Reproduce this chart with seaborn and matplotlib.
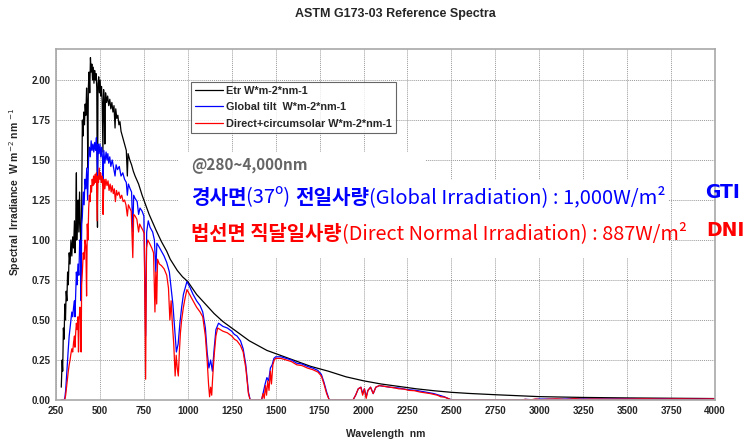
import numpy as np
import pandas as pd
import seaborn as sns
import matplotlib.pyplot as plt
from matplotlib.patches import Rectangle

# ---- data ----
etr_wl = [280, 285, 288, 292, 296, 300, 304, 308, 312, 316, 320, 325, 330, 335, 340, 345, 350,
          355, 358, 362, 366, 368, 372, 376, 380, 384, 388, 393, 396, 400, 404, 408, 412, 416,
          420, 424, 428, 431, 434, 438, 442, 446, 450, 454, 458, 462, 466, 470, 474, 478, 482,
          486, 489, 493, 497, 501, 505, 509, 513, 517, 521, 525, 528, 532, 538, 544, 550, 556,
          562, 568, 574, 580, 586, 590, 596, 602, 608, 614, 620, 630, 640, 650, 656, 660, 670,
          680, 690, 700, 720, 740, 760, 780, 800, 820, 850, 880, 900, 940, 970, 1000, 1050,
          1100, 1150, 1200, 1250, 1300, 1350, 1400, 1450, 1500, 1550, 1600, 1650, 1700, 1750,
          1800, 1900, 2000, 2100, 2200, 2300, 2400, 2500, 2600, 2750, 3000, 3250, 3500, 3750, 4000]
etr = [0.08, 0.25, 0.18, 0.45, 0.38, 0.60, 0.50, 0.68, 0.62, 0.80, 0.72, 0.92, 0.85, 1.00, 0.90,
       1.02, 0.95, 1.12, 0.92, 1.05, 1.42, 1.00, 1.15, 1.25, 1.05, 1.30, 1.10, 0.85, 1.20, 1.75,
       1.65, 1.80, 1.72, 1.85, 1.78, 1.95, 1.82, 1.45, 1.95, 2.05, 1.92, 2.14, 2.05, 2.10, 2.00,
       2.08, 1.98, 2.06, 2.00, 2.04, 1.95, 1.08, 1.98, 2.02, 1.92, 2.00, 1.90, 1.96, 1.86, 1.55,
       1.94, 1.84, 1.60, 1.92, 1.86, 1.90, 1.84, 1.88, 1.82, 1.86, 1.80, 1.84, 1.70, 1.82, 1.76,
       1.78, 1.72, 1.74, 1.68, 1.64, 1.60, 1.56, 1.40, 1.54, 1.50, 1.47, 1.43, 1.40, 1.35, 1.28,
       1.22, 1.16, 1.11, 1.06, 0.99, 0.93, 0.88, 0.81, 0.77, 0.74, 0.66, 0.60, 0.54, 0.49, 0.45,
       0.41, 0.37, 0.34, 0.31, 0.29, 0.27, 0.25, 0.23, 0.21, 0.195, 0.18, 0.145, 0.12, 0.10,
       0.085, 0.07, 0.058, 0.048, 0.041, 0.033, 0.021, 0.016, 0.013, 0.011, 0.009]

glob_wl = [280, 295, 300, 305, 310, 315, 320, 325, 330, 335, 340, 345, 350, 355, 358, 362, 366,
           370, 375, 380, 385, 390, 393, 396, 400, 405, 410, 415, 420, 425, 430, 435, 440, 445,
           450, 455, 460, 465, 470, 475, 480, 486, 490, 495, 500, 505, 510, 515, 518, 522, 528,
           535, 540, 545, 550, 556, 562, 570, 578, 586, 592, 600, 610, 620, 630, 640, 650, 656,
           662, 672, 680, 687, 692, 700, 712, 720, 728, 740, 750, 760, 766, 775, 785, 800, 810,
           818, 824, 835, 850, 865, 880, 895, 905, 915, 925, 935, 945, 955, 965, 975, 985, 995,
           1010, 1030, 1050, 1070, 1085, 1100, 1110, 1120, 1130, 1140, 1150, 1160, 1175, 1200,
           1225, 1250, 1265, 1280, 1300, 1315, 1330, 1345, 1355, 1420, 1430, 1440, 1450, 1460,
           1470, 1480, 1490, 1500, 1530, 1560, 1590, 1620, 1650, 1680, 1710, 1740, 1760, 1775,
           1790, 1805, 1940, 1955, 1970, 1985, 1995, 2005, 2015, 2025, 2040, 2055, 2070, 2090,
           2120, 2150, 2200, 2250, 2300, 2350, 2400, 2430, 2460, 2490, 2510, 2900, 2920, 2960,
           3000, 3100, 3200, 3300, 3400, 3500, 3600, 3700, 3800, 3900, 4000]
glob = [0.0, 0.0, 0.01, 0.06, 0.15, 0.24, 0.32, 0.40, 0.45, 0.50, 0.55, 0.52, 0.58, 0.62, 0.52,
        0.66, 0.80, 0.72, 0.85, 0.78, 1.00, 0.95, 0.62, 1.10, 1.15, 1.30, 1.22, 1.38, 1.32, 1.45,
        1.25, 1.50, 1.58, 1.52, 1.62, 1.56, 1.60, 1.55, 1.61, 1.56, 1.64, 1.40, 1.60, 1.54, 1.60,
        1.52, 1.58, 1.50, 1.35, 1.56, 1.48, 1.55, 1.50, 1.54, 1.48, 1.52, 1.46, 1.50, 1.45, 1.40,
        1.47, 1.44, 1.46, 1.40, 1.42, 1.38, 1.36, 1.28, 1.35, 1.32, 1.30, 1.05, 1.28, 1.26, 1.24,
        1.16, 1.20, 1.18, 1.15, 0.40, 1.05, 1.12, 1.08, 1.05, 1.00, 0.80, 0.98, 0.96, 0.93, 0.90,
        0.86, 0.80, 0.70, 0.60, 0.45, 0.30, 0.35, 0.48, 0.58, 0.66, 0.70, 0.74, 0.71, 0.66, 0.62,
        0.59, 0.55, 0.45, 0.30, 0.20, 0.25, 0.18, 0.32, 0.44, 0.48, 0.46, 0.45, 0.43, 0.41, 0.40,
        0.37, 0.32, 0.22, 0.05, 0.0, 0.0, 0.05, 0.10, 0.14, 0.12, 0.20, 0.22, 0.26, 0.27, 0.27,
        0.26, 0.25, 0.23, 0.225, 0.21, 0.20, 0.185, 0.16, 0.11, 0.05, 0.0, 0.0, 0.03, 0.07, 0.08,
        0.04, 0.07, 0.02, 0.06, 0.08, 0.04, 0.08, 0.09, 0.085, 0.08, 0.075, 0.065, 0.06, 0.05,
        0.04, 0.03, 0.02, 0.005, 0.0, 0.0, 0.004, 0.002, 0.006, 0.005, 0.007, 0.006, 0.006,
        0.007, 0.006, 0.007, 0.006, 0.006, 0.007]

dir_wl = [280, 300, 305, 310, 315, 320, 325, 330, 335, 340, 345, 350, 355, 358, 362, 366, 370,
          375, 378, 382, 386, 390, 393, 396, 400, 405, 410, 415, 420, 424, 428, 432, 436, 440,
          444, 448, 452, 456, 460, 464, 468, 472, 476, 480, 484, 488, 492, 496, 500, 504, 508,
          512, 516, 518, 522, 528, 534, 540, 546, 552, 558, 564, 570, 576, 582, 588, 594, 600,
          608, 616, 624, 632, 640, 648, 656, 662, 670, 678, 687, 692, 700, 710, 720, 726, 735,
          745, 752, 760, 765, 772, 782, 795, 805, 813, 818, 823, 828, 838, 850, 865, 880, 890,
          898, 905, 912, 920, 928, 934, 940, 946, 952, 958, 965, 975, 985, 995, 1010, 1030, 1050,
          1070, 1085, 1100, 1110, 1118, 1124, 1130, 1136, 1142, 1150, 1160, 1170, 1185, 1200,
          1225, 1250, 1265, 1280, 1300, 1315, 1330, 1345, 1355, 1420, 1428, 1435, 1442, 1448,
          1455, 1462, 1470, 1476, 1484, 1492, 1500, 1530, 1560, 1590, 1620, 1650, 1680, 1710,
          1740, 1760, 1775, 1790, 1805, 1940, 1955, 1970, 1985, 1995, 2005, 2015, 2025, 2040,
          2055, 2070, 2090, 2120, 2150, 2180, 2200, 2230, 2260, 2290, 2320, 2350, 2380, 2400,
          2420, 2440, 2460, 2480, 2500, 2900, 2920, 2950, 2980, 3010, 3050, 3100, 3150, 3200,
          3250, 3300, 3400, 3500, 3600, 3700, 3800, 3900, 4000]
direct = [0.0, 0.0, 0.03, 0.08, 0.13, 0.18, 0.22, 0.25, 0.29, 0.32, 0.30, 0.36, 0.40, 0.33, 0.42,
          0.48, 0.44, 0.52, 0.30, 0.50, 0.58, 0.56, 0.30, 0.72, 0.80, 0.92, 0.88, 1.00, 0.96, 0.65,
          1.10, 1.00, 1.20, 1.28, 1.24, 1.34, 1.30, 1.38, 1.34, 1.40, 1.35, 1.41, 1.36, 1.42, 1.12,
          1.40, 1.36, 1.45, 1.38, 1.42, 1.36, 1.40, 1.33, 1.16, 1.38, 1.32, 1.38, 1.34, 1.37, 1.31,
          1.35, 1.30, 1.34, 1.29, 1.32, 1.24, 1.31, 1.28, 1.30, 1.26, 1.28, 1.24, 1.25, 1.22, 1.15,
          1.22, 1.20, 1.18, 0.89, 1.16, 1.15, 1.13, 1.05, 1.10, 1.08, 1.06, 1.04, 0.13, 0.95, 1.00,
          0.98, 0.95, 0.92, 0.55, 0.80, 0.60, 0.88, 0.85, 0.84, 0.82, 0.78, 0.70, 0.50, 0.62, 0.48,
          0.35, 0.15, 0.28, 0.20, 0.15, 0.30, 0.42, 0.50, 0.58, 0.64, 0.69, 0.66, 0.62, 0.58, 0.55,
          0.52, 0.40, 0.25, 0.10, 0.02, 0.08, 0.03, 0.15, 0.28, 0.40, 0.45, 0.44, 0.43, 0.42, 0.40,
          0.38, 0.37, 0.34, 0.30, 0.20, 0.04, 0.0, 0.0, 0.04, 0.01, 0.09, 0.03, 0.12, 0.06, 0.18,
          0.10, 0.22, 0.25, 0.26, 0.26, 0.25, 0.24, 0.22, 0.215, 0.20, 0.19, 0.175, 0.15, 0.10,
          0.04, 0.0, 0.0, 0.03, 0.07, 0.08, 0.03, 0.07, 0.01, 0.06, 0.08, 0.04, 0.08, 0.09, 0.085,
          0.08, 0.075, 0.07, 0.068, 0.06, 0.058, 0.05, 0.045, 0.04, 0.035, 0.03, 0.02, 0.018, 0.01,
          0.0, 0.0, 0.004, 0.001, 0.006, 0.002, 0.005, 0.007, 0.003, 0.008, 0.004, 0.006, 0.005,
          0.006, 0.007, 0.006, 0.007, 0.006, 0.007]

series_names = ["Etr W*m-2*nm-1", "Global tilt  W*m-2*nm-1", "Direct+circumsolar W*m-2*nm-1"]
series_colors = ["#000000", "#0000ff", "#ff0000"]
x_ticks = list(range(250, 4001, 250))
y_ticks = [0.0, 0.25, 0.5, 0.75, 1.0, 1.25, 1.5, 1.75, 2.0]

df = pd.concat([
    pd.DataFrame({"wl": etr_wl, "val": etr, "series": series_names[0]}),
    pd.DataFrame({"wl": glob_wl, "val": glob, "series": series_names[1]}),
    pd.DataFrame({"wl": dir_wl, "val": direct, "series": series_names[2]}),
])

sns.set_style("white")
plt.rcParams["font.family"] = ["Liberation Sans", "DejaVu Sans"]

fig = plt.figure(figsize=(7.46, 4.41), dpi=100)
W, H = 746, 441
ax = fig.add_axes([56 / W, 41 / H, 659 / W, 351 / H])

sns.lineplot(data=df, x="wl", y="val", hue="series", palette=series_colors,
             estimator=None, sort=False, linewidth=0.9, ax=ax)

ax.set_xlim(250, 4000)
ax.set_ylim(0, 2.194)
ax.set_xticks(x_ticks)
ax.set_yticks(y_ticks)
ax.set_yticklabels([f"{v:.2f}" for v in y_ticks])
ax.tick_params(length=0, labelsize=7, pad=4)
for lab in ax.get_xticklabels() + ax.get_yticklabels():
    lab.set_fontweight("bold")
ax.grid(True, color="#9a9a9a", linestyle=(0, (1, 1)), linewidth=0.7)
ax.set_axisbelow(True)
for sp in ax.spines.values():
    sp.set_color("#a8a8a8")
    sp.set_linewidth(1.2)

ax.set_xlabel("Wavelength  nm", fontsize=7.5, fontweight="bold", labelpad=10)
ax.set_ylabel("")
fig.text(15 / W, 1 - 192 / H, "Spectral  Irradiance  W m$^{-2}$ nm $^{-1}$", rotation=90,
         ha="center", va="center", fontsize=7.5, fontweight="bold")
fig.text(395 / W, 1 - 14 / H, "ASTM G173-03 Reference Spectra", ha="center", va="center",
         fontsize=9, fontweight="bold")

leg = ax.legend(loc="upper left", bbox_to_anchor=(191 / W, 1 - 82 / H),
                bbox_transform=fig.transFigure, frameon=True, fancybox=False,
                prop={"size": 7.8, "weight": "bold"}, handlelength=2.6, borderaxespad=0,
                labelspacing=0.6, borderpad=0.35, handletextpad=0.3)
leg.get_frame().set_edgecolor("#404040")
leg.get_frame().set_linewidth(0.8)
leg.set_title(None)

# white backdrops behind the annotation block
ax.add_patch(Rectangle(((178 - 56) / 659, (400 - 180) / 351), (425 - 178) / 659, 28 / 351,
                       transform=ax.transAxes, facecolor="white", edgecolor="none", zorder=1.5))
ax.add_patch(Rectangle(((178 - 56) / 659, (400 - 258) / 351), (668 - 178) / 659, 78 / 351,
                       transform=ax.transAxes, facecolor="white", edgecolor="none", zorder=1.5))

kfont = ["Noto Sans CJK KR", "DejaVu Sans"]
fig.text(191 / W, 1 - 169 / H, "@280~4,000nm", color="#666666", fontsize=11,
         fontweight="bold", family=kfont)


def chain(parts, x, y, color, size):
    prev = fig.text(x, y, parts[0][0], color=color, fontsize=size, fontweight=parts[0][1],
                    family=kfont, va="baseline", ha="left")
    for txt, weight in parts[1:]:
        prev = ax.annotate(txt, xy=(1, 0), xycoords=prev, va="bottom", ha="left",
                           color=color, fontsize=size, fontweight=weight, family=kfont)


chain([("경사면", "bold"), ("(37º) ", "normal"), ("전일사량", "bold"),
       ("(Global Irradiation) : 1,000W/m²", "normal")],
      191 / W, 1 - 204 / H, "#0000ff", 14.5)
chain([("법선면 직달일사량", "bold"),
       ("(Direct Normal Irradiation) : 887W/m²", "normal")],
      191 / W, 1 - 240 / H, "#ff0000", 14.3)

fig.text(705 / W, 1 - 192 / H, "GTI", color="#0000ff", fontsize=13.5, fontweight="bold",
         family="DejaVu Sans", va="center", ha="left")
fig.text(706 / W, 1 - 230 / H, "DNI", color="#ff0000", fontsize=13.5, fontweight="bold",
         family="DejaVu Sans", va="center", ha="left")

fig.savefig("out.png", dpi=100)
